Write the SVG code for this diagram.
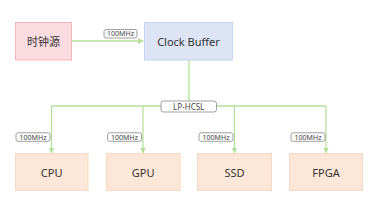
<svg xmlns="http://www.w3.org/2000/svg" width="378" height="213" viewBox="0 0 378 213">
<defs>
<marker id="ah" markerWidth="6" markerHeight="6" refX="5" refY="3" orient="auto" markerUnits="userSpaceOnUse">
<path d="M0,0 L6,3 L0,6 Z" fill="#b5e09c"/>
</marker>
<style>
.t{font-family:"Noto Sans","Noto Sans CJK SC",sans-serif;fill:#333;text-anchor:middle;dominant-baseline:central}
.n{font-size:11px}
.l{font-size:7px;font-family:"Noto Sans",sans-serif;fill:#444;text-anchor:middle;dominant-baseline:central}
.lb{fill:#fff;stroke:#888;stroke-width:0.8}
.c{stroke:#b5e09c;stroke-width:1.3;fill:none}
.o{fill:#fde7d8;stroke:#fad8c0;stroke-width:1}
</style>
</defs>
<rect width="378" height="213" fill="#fff"/>
<g id="connectors">
<line class="c" x1="72" y1="41" x2="143" y2="41" marker-end="url(#ah)"/>
<line class="c" x1="189" y1="60" x2="189" y2="106"/>
<line class="c" x1="51.5" y1="106" x2="326" y2="106"/>
<line class="c" x1="51.5" y1="106" x2="51.5" y2="152.5" marker-end="url(#ah)"/>
<line class="c" x1="143" y1="106" x2="143" y2="152.5" marker-end="url(#ah)"/>
<line class="c" x1="234.5" y1="106" x2="234.5" y2="152.5" marker-end="url(#ah)"/>
<line class="c" x1="326" y1="106" x2="326" y2="152.5" marker-end="url(#ah)"/>
<rect class="lb" x="104" y="29.5" width="33" height="8.5" rx="2"/>
<text class="l" x="120.5" y="33.8">100MHz</text>
<rect class="lb" x="161" y="101" width="55.5" height="11" rx="2.5"/>
<text class="l" x="188.7" y="106.5" style="font-size:8px">LP-HCSL</text>
<rect class="lb" x="16" y="132.8" width="34" height="8.5" rx="2"/>
<text class="l" x="33" y="137">100MHz</text>
<rect class="lb" x="107.5" y="132.8" width="34" height="8.5" rx="2"/>
<text class="l" x="124.5" y="137">100MHz</text>
<rect class="lb" x="199" y="132.8" width="34" height="8.5" rx="2"/>
<text class="l" x="216" y="137">100MHz</text>
<rect class="lb" x="291" y="132.8" width="34" height="8.5" rx="2"/>
<text class="l" x="308" y="137">100MHz</text>
</g>
<g id="clock-source">
<rect x="15.5" y="22.5" width="56" height="37.5" fill="#fbdce1" stroke="#f4b4bd" stroke-width="1"/>
<text class="t n" x="43.5" y="41.3">时钟源</text>
</g>
<g id="clock-buffer">
<rect x="144.5" y="22.5" width="88" height="37.5" fill="#dce4f6" stroke="#c6d5f1" stroke-width="1"/>
<text class="t n" x="188.5" y="41.3">Clock Buffer</text>
</g>
<g id="cpu">
<rect class="o" x="15.5" y="153.5" width="72.5" height="37"/>
<text class="t n" x="51.7" y="172">CPU</text>
</g>
<g id="gpu">
<rect class="o" x="106.5" y="153.5" width="73.5" height="37"/>
<text class="t n" x="143.2" y="172">GPU</text>
</g>
<g id="ssd">
<rect class="o" x="197.5" y="153.5" width="74" height="37"/>
<text class="t n" x="234.5" y="172">SSD</text>
</g>
<g id="fpga">
<rect class="o" x="289.5" y="153.5" width="73" height="37"/>
<text class="t n" x="326" y="172">FPGA</text>
</g>
</svg>
